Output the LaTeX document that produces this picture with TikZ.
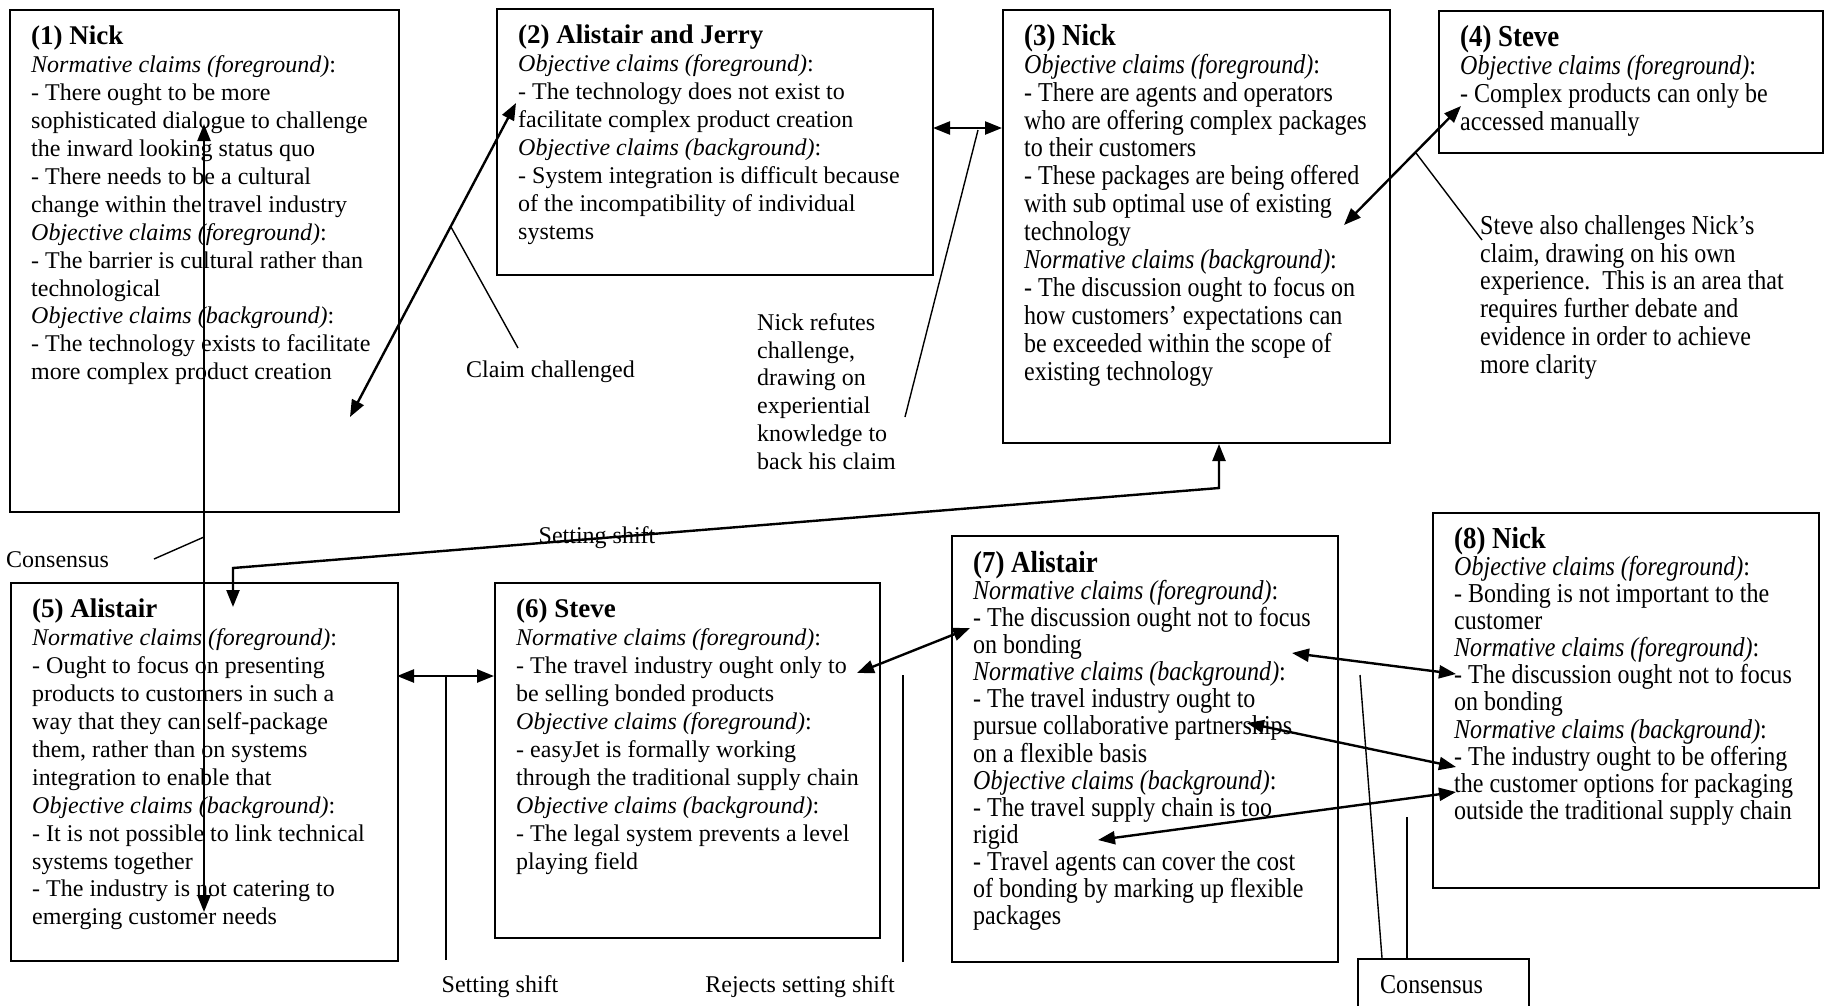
\documentclass[tikz,border=0pt]{standalone}
\usepackage{fontspec}
\setmainfont{Liberation Serif}
\newfontfamily\narrowserif{Liberation Serif}[FakeStretch=0.88]
\usetikzlibrary{arrows.meta}

% section heading inside a claim box: italic words, upright colon
\newcommand\claimhead[1]{\textit{#1}:}
% speaker titles
\newcommand\speaker[1]{{\fontsize{27}{27.9}\selectfont\bfseries #1}}
\newcommand\narrowspeaker[1]{{\fontsize{30.5}{27.9}\selectfont\bfseries #1}}
\newcommand\tightspeaker[1]{{\fontsize{30.5}{27.1}\selectfont\bfseries #1}}

\begin{document}
\begin{tikzpicture}[x=1pt,y=-1pt,
  box/.style={draw, line width=1.7pt, inner sep=0pt, anchor=north west},
  body/.style={anchor=north west, inner sep=0pt, align=left, font=\fontsize{24}{27.9}\selectfont},
  narrowbody/.style={body, font=\narrowserif\fontsize{27.3}{27.9}\selectfont},
  tightbody/.style={body, font=\narrowserif\fontsize{27.3}{27.1}\selectfont},
  note/.style={inner sep=0pt, align=left, font=\fontsize{24}{27.9}\selectfont},
  narrownote/.style={note, font=\narrowserif\fontsize{27.3}{27.9}\selectfont},
  link/.style={line width=2.4pt, {Triangle[length=17pt,width=13pt]}-{Triangle[length=17pt,width=13pt]}},
  pointer/.style={line width=1.4pt},
]
\fill[white] (0,0) rectangle (1824,1005);
\clip (0,0) rectangle (1824,1005);

% ---------- claim boxes ----------
\node[box, minimum width=389pt, minimum height=502pt] (b1) at (9,9) {};
\node[box, minimum width=436pt, minimum height=266pt] (b2) at (496,8) {};
\node[box, minimum width=387pt, minimum height=433pt] (b3) at (1002,9) {};
\node[box, minimum width=384pt, minimum height=142pt] (b4) at (1438,10) {};
\node[box, minimum width=387pt, minimum height=378pt] (b5) at (10,582) {};
\node[box, minimum width=385pt, minimum height=355pt] (b6) at (494,582) {};
\node[box, minimum width=386pt, minimum height=426pt] (b7) at (951,535) {};
\node[box, minimum width=386pt, minimum height=375pt] (b8) at (1432,512) {};
\node[box, minimum width=171pt, minimum height=70pt] (cbox) at (1357,958) {};

% ---------- box contents ----------
\node[body] (t1) at (31,26) {\speaker{(1) Nick}\\
\claimhead{Normative claims (foreground)}\\
- There ought to be more\\
sophisticated dialogue to challenge\\
the inward looking status quo\\
- There needs to be a cultural\\
change within the travel industry\\
\claimhead{Objective claims (foreground)}\\
- The barrier is cultural rather than\\
technological\\
\claimhead{Objective claims (background)}\\
- The technology exists to facilitate\\
more complex product creation};

\node[body] (t2) at (518,25) {\speaker{(2) Alistair and Jerry}\\
\claimhead{Objective claims (foreground)}\\
- The technology does not exist to\\
facilitate complex product creation\\
\claimhead{Objective claims (background)}\\
- System integration is difficult because\\
of the incompatibility of individual\\
systems};

\node[narrowbody] (t3) at (1024,24) {\narrowspeaker{(3) Nick}\\
\claimhead{Objective claims (foreground)}\\
- There are agents and operators\\
who are offering complex packages\\
to their customers\\
- These packages are being offered\\
with sub optimal use of existing\\
technology\\
\claimhead{Normative claims (background)}\\
- The discussion ought to focus on\\
how customers’ expectations can\\
be exceeded within the scope of\\
existing technology};

\node[narrowbody] (t4) at (1460,25) {\narrowspeaker{(4) Steve}\\
\claimhead{Objective claims (foreground)}\\
- Complex products can only be\\
accessed manually};

\node[body] (t5) at (32,599) {\speaker{(5) Alistair}\\
\claimhead{Normative claims (foreground)}\\
- Ought to focus on presenting\\
products to customers in such a\\
way that they can self-package\\
them, rather than on systems\\
integration to enable that\\
\claimhead{Objective claims (background)}\\
- It is not possible to link technical\\
systems together\\
- The industry is not catering to\\
emerging customer needs};

\node[body] (t6) at (516,599) {\speaker{(6) Steve}\\
\claimhead{Normative claims (foreground)}\\
- The travel industry ought only to\\
be selling bonded products\\
\claimhead{Objective claims (foreground)}\\
- easyJet is formally working\\
through the traditional supply chain\\
\claimhead{Objective claims (background)}\\
- The legal system prevents a level\\
playing field};

\node[tightbody] (t7) at (973,551) {\tightspeaker{(7) Alistair}\\
\claimhead{Normative claims (foreground)}\\
- The discussion ought not to focus\\
on bonding\\
\claimhead{Normative claims (background)}\\
- The travel industry ought to\\
pursue collaborative partnerships\\
on a flexible basis\\
\claimhead{Objective claims (background)}\\
- The travel supply chain is too\\
rigid\\
- Travel agents can cover the cost\\
of bonding by marking up flexible\\
packages};

\node[tightbody] (t8) at (1454,527) {\tightspeaker{(8) Nick}\\
\claimhead{Objective claims (foreground)}\\
- Bonding is not important to the\\
customer\\
\claimhead{Normative claims (foreground)}\\
- The discussion ought not to focus\\
on bonding\\
\claimhead{Normative claims (background)}\\
- The industry ought to be offering\\
the customer options for packaging\\
outside the traditional supply chain};

% ---------- annotations ----------
\node[note, anchor=west] (lcons) at (6,560) {Consensus};
\node[note, anchor=west] (lclaim) at (466,372) {Claim challenged};
\node[note, anchor=north west] (lrefute) at (757,313) {Nick refutes\\challenge,\\drawing on\\experiential\\knowledge to\\back his claim};
\node[narrownote, anchor=north west] (lsteve) at (1480,215) {Steve also challenges Nick’s\\claim, drawing on his own\\experience.\ \ This is an area that\\requires further debate and\\evidence in order to achieve\\more clarity};
\node[note] (lshift) at (597,538) {Setting shift};
\node[note] (lshift2) at (500,987) {Setting shift};
\node[note] (lreject) at (800,987) {Rejects setting shift};
\node[narrownote, anchor=west] (lcons2) at (1380,985) {Consensus};

% ---------- connector end points ----------
\coordinate (p1top) at (204,124);   \coordinate (p5low) at (204,912);
\coordinate (p1low) at (350,417);   \coordinate (p2left) at (516,103);
\coordinate (p2right) at (933,128); \coordinate (p3left) at (1002,128);
\coordinate (p3mid) at (1344,225);  \coordinate (p4left) at (1461,106);
\coordinate (p3base) at (1219,444); \coordinate (k1) at (1219,488);
\coordinate (k2) at (233,568);      \coordinate (p5top) at (233,607);
\coordinate (p5right) at (397,676); \coordinate (p6left) at (494,676);
\coordinate (p6right) at (857,673); \coordinate (p7left) at (970,628);
\coordinate (p7a) at (1292,653);    \coordinate (p8a) at (1456,674);
\coordinate (p7b) at (1247,723);    \coordinate (p8b) at (1456,767);
\coordinate (p7c) at (1098,840);    \coordinate (p8c) at (1456,792);

% ---------- double-headed links between claims ----------
\draw[link] (p1top) -- (p5low);
\draw[link] (p1low) -- (p2left);
\draw[link] (p2right) -- (p3left);
\draw[link] (p3mid) -- (p4left);
\draw[link] (p3base) -- (k1) -- (k2) -- (p5top);
\draw[link] (p5right) -- (p6left);
\draw[link] (p6right) -- (p7left);
\draw[link] (p7a) -- (p8a);
\draw[link] (p7b) -- (p8b);
\draw[link] (p7c) -- (p8c);

% ---------- annotation pointers ----------
\coordinate (q1) at (154,559);  \coordinate (q1e) at (204,537);
\coordinate (q2) at (518,348);  \coordinate (q2e) at (451,227);
\coordinate (q3) at (905,417);  \coordinate (q3e) at (978,130);
\coordinate (q4) at (1482,240); \coordinate (q4e) at (1416,153);
\coordinate (q5) at (446,960);  \coordinate (q5e) at (446,676);
\coordinate (q6) at (903,962);  \coordinate (q6e) at (903,675);
\coordinate (q7) at (1382,958); \coordinate (q7e) at (1360,675);
\coordinate (q8) at (1407,958); \coordinate (q8e) at (1407,817);
\draw[pointer] (q1) -- (q1e);
\draw[pointer] (q2) -- (q2e);
\draw[pointer] (q3) -- (q3e);
\draw[pointer] (q4) -- (q4e);
\draw[pointer] (q5) -- (q5e);
\draw[pointer] (q6) -- (q6e);
\draw[pointer] (q7) -- (q7e);
\draw[pointer] (q8) -- (q8e);
\end{tikzpicture}
\end{document}
